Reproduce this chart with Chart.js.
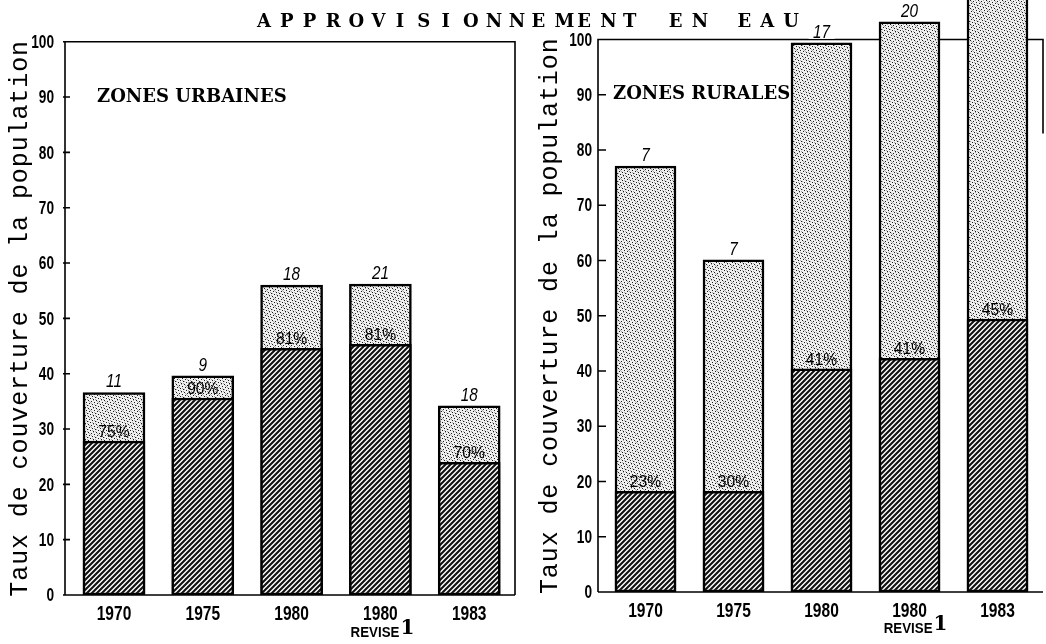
<!DOCTYPE html>
<html lang="fr">
<head>
<meta charset="utf-8">
<title>Approvisionnement en eau</title>
<script src="https://cdn.jsdelivr.net/npm/chart.js@4.4.1/dist/chart.umd.min.js"></script>
<style>
  html, body { margin: 0; padding: 0; background: #fff; }
  body { width: 1046px; height: 644px; position: relative; overflow: hidden; }
  #urbain { position: absolute; left: 0; top: 0; }
  #rural { position: absolute; left: 530px; top: 0; }
  #title {
    position: absolute; left: 257px; top: 12px; z-index: 2;
    font: 900 18px/18px 'DejaVu Serif', serif; white-space: pre; color: #000;
  }
  #title span { display: inline-block; width: 11.45px; text-align: center; }
</style>
</head>
<body>
<div id="title"></div>
<canvas id="urbain" width="525" height="644"></canvas>
<canvas id="rural" width="516" height="644"></canvas>
<script>
const titleText = 'APPROVISIONNEMENT EN EAU';
const yTitle = 'Taux de couverture de la population';
const years = ['1970', '1975', '1980', '1980', '1983'];
const reviseIndex = 3;
const yTicks = [0, 10, 20, 30, 40, 50, 60, 70, 80, 90, 100];

// Zones urbaines
const urbanTotal = [36.6, 39.6, 56.0, 56.2, 34.2];
const urbanServed = [27.8, 35.6, 44.6, 45.3, 24.0];
const urbanTotalLabels = ['11', '9', '18', '21', '18'];
const urbanPctLabels = ['75%', '90%', '81%', '81%', '70%'];

// Zones rurales
const ruralTotal = [77.1, 60.1, 99.4, 103.2, 112];
const ruralServed = [18.2, 18.2, 40.4, 42.3, 49.4];
const ruralTotalLabels = ['7', '7', '17', '20', ''];
const ruralPctLabels = ['23%', '30%', '41%', '41%', '45%'];

const sans = "'Liberation Sans', Arial, sans-serif";

// titre espacé comme à la machine
(function () {
    const spaced = titleText.split(' ').map(w => w.split('').join(' ')).join('   ');
    document.getElementById('title').innerHTML = spaced.split('').map(c => '<span>' + (c === ' ' ? '&nbsp;' : c) + '</span>').join('');
})();

function makeHatch() {
    const s = 5;
    const c = document.createElement('canvas');
    c.width = s; c.height = s;
    const g = c.getContext('2d');
    g.fillStyle = '#fff';
    g.fillRect(0, 0, s, s);
    g.strokeStyle = '#111';
    g.lineWidth = 2.1;
    g.beginPath();
    g.moveTo(-1, 1); g.lineTo(1, -1);
    g.moveTo(0, s); g.lineTo(s, 0);
    g.moveTo(s - 1, s + 1); g.lineTo(s + 1, s - 1);
    g.stroke();
    return g.createPattern(c, 'repeat');
}

function makeStipple() {
    const c = document.createElement('canvas');
    c.width = 8; c.height = 8;
    const g = c.getContext('2d');
    g.fillStyle = '#f0f0f0';
    g.fillRect(0, 0, 8, 8);
    g.fillStyle = '#1a1a1a';
    [[0, 0], [3, 1], [6, 2], [1, 3], [4, 4], [7, 5], [2, 6], [5, 7]].forEach(p => g.fillRect(p[0], p[1], 1, 1));
    g.fillStyle = '#aaaaaa';
    [[5, 0], [1, 1], [3, 3], [6, 4], [0, 5], [4, 6], [7, 7], [2, 2]].forEach(p => g.fillRect(p[0], p[1], 1, 1));
    return g.createPattern(c, 'repeat');
}

const hatch = makeHatch();
const stipple = makeStipple();

// texte resserré horizontalement (caractères "condensed" de l'original)
function narrowText(ctx, text, x, y, font, sx, align, baseline) {
    ctx.save();
    ctx.translate(x, y);
    ctx.scale(sx, 1);
    ctx.font = font;
    ctx.textAlign = align;
    ctx.textBaseline = baseline;
    ctx.fillText(text, 0, 0);
    ctx.restore();
}

function paperPlugin(o) {
    return {
        id: 'paper',
        beforeDatasetsDraw(chart) {
            const { ctx, chartArea: a, scales: { x, y } } = chart;
            const axisX = a.left + o.axisShift;
            const rightX = a.right + o.rightShift;
            const top = y.getPixelForValue(100);
            const bottom = y.getPixelForValue(0);
            ctx.save();
            ctx.strokeStyle = '#000';
            ctx.lineWidth = 1.6;
            ctx.beginPath();
            ctx.moveTo(axisX, bottom);
            ctx.lineTo(axisX, top);
            ctx.lineTo(rightX, top);
            ctx.lineTo(rightX, y.getPixelForValue(o.rightEdgeTo));
            ctx.moveTo(axisX, bottom);
            ctx.lineTo(rightX, bottom);
            // graduations
            y.ticks.forEach(t => {
                const py = y.getPixelForValue(t.value);
                ctx.moveTo(axisX + o.tickFrom, py);
                ctx.lineTo(axisX + o.tickTo, py);
            });
            ctx.stroke();

            ctx.fillStyle = '#000';
            y.ticks.forEach(t => {
                narrowText(ctx, String(t.value), axisX - o.tickGap, y.getPixelForValue(t.value) + 1,
                    'bold 19px ' + sans, 0.72, 'right', 'middle');
            });
            years.forEach((lab, i) => {
                narrowText(ctx, lab, x.getPixelForValue(i), bottom + o.xLabelDy,
                    'bold 21px ' + sans, 0.74, 'center', 'top');
            });
            ctx.restore();
        },
        afterDatasetsDraw(chart) {
            const { ctx, scales: { x, y } } = chart;
            const served = chart.getDatasetMeta(0).data;
            const total = chart.getDatasetMeta(1).data;
            ctx.save();
            ctx.fillStyle = '#000';

            // effectifs au-dessus des barres
            total.forEach((bar, i) => {
                const txt = o.totalLabels[i];
                if (!txt) return;
                ctx.fillStyle = '#fff';
                ctx.fillRect(bar.x - 13, bar.y - 20, 26, 16);
                ctx.fillStyle = '#000';
                narrowText(ctx, txt, bar.x, bar.y - 5, 'italic 18px ' + sans, 0.85, 'center', 'alphabetic');
            });

            // pourcentages
            served.forEach((bar, i) => {
                narrowText(ctx, o.pctLabels[i], bar.x, bar.y - 4, '17px ' + sans, 0.92, 'center', 'alphabetic');
            });

            // "REVISE" + renvoi
            const rx = x.getPixelForValue(reviseIndex) + o.reviseDx;
            const base = y.getPixelForValue(0) + o.reviseDy;
            narrowText(ctx, 'REVISE', rx, base, 'bold 14px ' + sans, 0.95, 'right', 'alphabetic');
            ctx.font = 'bold 20px "DejaVu Serif", serif';
            ctx.textAlign = 'left';
            ctx.textBaseline = 'alphabetic';
            ctx.fillText('1', rx + 1, base - 3);

            // nom de la zone
            ctx.font = 'bold 18px "DejaVu Serif", serif';
            ctx.textBaseline = 'middle';
            ctx.fillText(o.zone, o.zoneX, y.getPixelForValue(90));

            // titre de l'axe
            const yc = (y.getPixelForValue(0) + y.getPixelForValue(100)) / 2;
            ctx.translate(o.yTitleX, yc);
            ctx.rotate(-Math.PI / 2);
            ctx.textAlign = 'center';
            ctx.font = '25px "Liberation Mono", monospace';
            ctx.letterSpacing = '0.9px';
            ctx.fillText(yTitle, 0, 0);
            ctx.restore();
        }
    };
}

function buildChart(id, o) {
    return new Chart(document.getElementById(id), {
        type: 'bar',
        data: {
            labels: years,
            datasets: [
                {
                    label: 'desservie',
                    data: o.served,
                    backgroundColor: hatch,
                    borderColor: '#000',
                    borderWidth: 2.5,
                    borderSkipped: false,
                    barThickness: o.barWidth,
                    grouped: false,
                    order: 1
                },
                {
                    label: 'totale',
                    data: o.total,
                    backgroundColor: stipple,
                    borderColor: '#000',
                    borderWidth: 2.5,
                    borderSkipped: false,
                    barThickness: o.barWidth,
                    grouped: false,
                    order: 2
                }
            ]
        },
        options: {
            responsive: false,
            animation: false,
            layout: { padding: { left: 0, top: o.padTop, right: o.padRight, bottom: 0 } },
            plugins: { legend: { display: false }, tooltip: { enabled: false }, title: { display: false } },
            scales: {
                x: {
                    grid: { display: false, drawTicks: false },
                    border: { display: false },
                    ticks: { display: false },
                    afterFit: s => { s.height = o.xHeight; s.paddingLeft = 0; s.paddingRight = 0; }
                },
                y: {
                    min: 0,
                    max: o.yMax,
                    grid: { display: false, drawTicks: false },
                    border: { display: false },
                    ticks: { display: false },
                    afterBuildTicks: s => { s.ticks = yTicks.map(v => ({ value: v })); },
                    afterFit: s => { s.width = o.yWidth; s.paddingTop = 0; s.paddingBottom = 0; }
                }
            }
        },
        plugins: [paperPlugin(o)]
    });
}

buildChart('urbain', {
    total: urbanTotal, served: urbanServed,
    totalLabels: urbanTotalLabels, pctLabels: urbanPctLabels,
    zone: 'ZONES URBAINES', zoneX: 97,
    yMax: 100, padTop: 41.7, padRight: 11.4, yWidth: 69.6, xHeight: 49,
    axisShift: -4.6, rightShift: 1.4, rightEdgeTo: 0,
    tickFrom: -2, tickTo: 5, tickGap: 11, xLabelDy: 9, barWidth: 62,
    reviseDx: 19, reviseDy: 42, yTitleX: 20
});

buildChart('rural', {
    total: ruralTotal, served: ruralServed,
    totalLabels: ruralTotalLabels, pctLabels: ruralPctLabels,
    zone: 'ZONES RURALES', zoneX: 83,
    yMax: 107.15, padTop: 0, padRight: 4.5, yWidth: 71.5, xHeight: 52,
    axisShift: -3.5, rightShift: 1.5, rightEdgeTo: 83,
    tickFrom: 0, tickTo: 8, tickGap: 6, xLabelDy: 9, barWidth: 61,
    reviseDx: 23, reviseDy: 41, yTitleX: 20
});
</script>
</body>
</html>
